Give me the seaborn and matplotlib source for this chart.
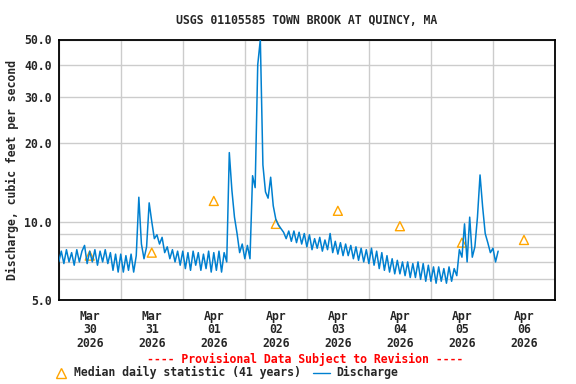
import pandas as pd
import seaborn as sns
import matplotlib.pyplot as plt
import matplotlib.dates as mdates
import matplotlib.ticker as mticker
import matplotlib.lines as mlines

mar30 = [7.0, 7.7, 6.9, 7.8, 7.0, 7.6, 6.8, 7.8, 7.0, 7.7, 8.1, 6.9,
         7.7, 7.0, 7.8, 6.8, 7.7, 7.0, 7.8, 6.9, 7.6, 6.5, 7.5, 6.4]
mar31 = [7.5, 6.4, 7.4, 6.5, 7.5, 6.4, 7.4, 12.4, 8.2, 7.2, 8.0, 11.8,
         10.0, 8.6, 8.9, 8.2, 8.7, 7.6, 8.0, 7.2, 7.8, 7.0, 7.7, 6.8]
apr01 = [7.7, 6.6, 7.6, 6.5, 7.7, 6.8, 7.6, 6.5, 7.5, 6.6, 7.7, 6.4,
         7.6, 6.5, 7.7, 6.4, 7.6, 7.0, 18.4, 13.2, 10.4, 9.0, 7.6, 8.2]
apr02 = [7.2, 8.1, 7.2, 15.0, 13.5, 40.0, 50.0, 16.5, 13.0, 12.3, 14.8, 11.5,
         10.2, 9.7, 9.4, 9.1, 8.6, 9.2, 8.4, 9.2, 8.3, 9.1, 8.2, 9.0]
apr03 = [8.0, 8.9, 7.8, 8.6, 7.9, 8.7, 7.7, 8.5, 7.8, 9.0, 7.6, 8.4,
         7.5, 8.3, 7.4, 8.2, 7.4, 8.1, 7.2, 8.0, 7.1, 7.9, 7.0, 7.8]
apr04 = [6.9, 7.9, 6.8, 7.7, 6.6, 7.6, 6.5, 7.4, 6.4, 7.2, 6.3, 7.1,
         6.3, 7.0, 6.2, 7.0, 6.1, 6.9, 6.1, 7.0, 6.0, 6.9, 5.9, 6.8]
apr05 = [5.9, 6.7, 5.8, 6.7, 5.9, 6.6, 5.8, 6.7, 5.9, 6.6, 6.2, 7.8,
         7.3, 9.8, 7.0, 10.4, 7.3, 8.0, 10.4, 15.1, 11.4, 9.0, 8.3, 7.6]
apr06 = [7.9, 7.0, 7.7]

# Median daily statistic (41 years), plotted at noon
median_days = ['2026-03-30', '2026-03-31', '2026-04-01', '2026-04-02',
               '2026-04-03', '2026-04-04', '2026-04-05', '2026-04-06']
median_vals = [7.4, 7.6, 12.0, 9.8, 11.0, 9.6, 8.3, 8.5]

discharge = mar30 + mar31 + apr01 + apr02 + apr03 + apr04 + apr05 + apr06
times = pd.date_range('2026-03-30 00:00', periods=len(discharge), freq='h')
df = pd.DataFrame({'time': times, 'cfs': discharge})
med = pd.DataFrame({'time': pd.to_datetime(median_days) + pd.Timedelta(hours=12),
                    'cfs': median_vals})

BLUE = '#0080D0'
ORANGE = '#FFA500'

sns.set_theme(style='white')
plt.rcParams['font.family'] = ['DejaVu Sans Mono']
plt.rcParams['font.weight'] = 'bold'
fs = 8.3

fig, ax = plt.subplots(figsize=(5.76, 3.84), dpi=100)
fig.subplots_adjust(left=58.7 / 576, right=555 / 576, top=1 - 39.5 / 384, bottom=1 - 300 / 384)

sns.scatterplot(data=med, x='time', y='cfs', ax=ax, marker='^', s=42,
                facecolor='none', edgecolor=ORANGE, linewidth=1.0, zorder=2)
sns.lineplot(data=df, x='time', y='cfs', ax=ax, color=BLUE, lw=1.1, zorder=3)

ax.set_yscale('log')
ax.set_ylim(5, 50)
ax.set_xlim(pd.Timestamp('2026-03-30'), pd.Timestamp('2026-04-07'))

ax.yaxis.set_major_locator(mticker.FixedLocator([5, 10, 20, 30, 40, 50]))
ax.yaxis.set_major_formatter(mticker.FormatStrFormatter('%.1f'))
ax.yaxis.set_minor_locator(mticker.FixedLocator([6, 7, 8, 9]))
ax.yaxis.set_minor_formatter(mticker.NullFormatter())

ax.xaxis.set_major_locator(mdates.HourLocator(byhour=[12]))
ax.xaxis.set_major_formatter(mdates.DateFormatter('%b\n%d\n%Y'))
ax.xaxis.set_minor_locator(mdates.DayLocator())

ax.grid(False)
ax.grid(True, which='both', axis='y', color='#CCCCCC', lw=1.0)
ax.grid(True, which='minor', axis='x', color='#CCCCCC', lw=1.0)
ax.set_axisbelow(True)

ax.tick_params(which='both', length=0)
ax.tick_params(axis='y', pad=5, labelsize=fs)
ax.tick_params(axis='x', pad=7, labelsize=fs)
for t in ax.get_xticklabels():
    t.set_linespacing(1.05)
ax.set_xlabel('')
ax.set_ylabel('')

for s in ax.spines.values():
    s.set_color('black')
    s.set_linewidth(1.3)

fig.text(307 / 576, 1 - 20 / 384, 'USGS 01105585 TOWN BROOK AT QUINCY, MA',
         ha='center', va='center', fontsize=fs)
fig.text(12 / 576, 1 - 170 / 384, 'Discharge, cubic feet per second',
         ha='center', va='center', rotation=90, fontsize=fs)
fig.text(305.5 / 576, 1 - 359 / 384, '---- Provisional Data Subject to Revision ----',
         ha='center', va='center', color='red', fontsize=fs)

ly = 1 - 372.5 / 384
fig.add_artist(mlines.Line2D([60.7 / 576], [ly], marker='^', ms=7, mfc='none',
                             mec=ORANGE, mew=1.0, transform=fig.transFigure))
fig.text(74 / 576, ly, 'Median daily statistic (41 years)', ha='left', va='center', fontsize=fs)
fig.add_artist(mlines.Line2D([313 / 576, 330 / 576], [ly, ly], color=BLUE, lw=1.0,
                             transform=fig.transFigure))
fig.text(336.5 / 576, ly, 'Discharge', ha='left', va='center', fontsize=fs)

fig.savefig('out.png', dpi=100, facecolor='white')
